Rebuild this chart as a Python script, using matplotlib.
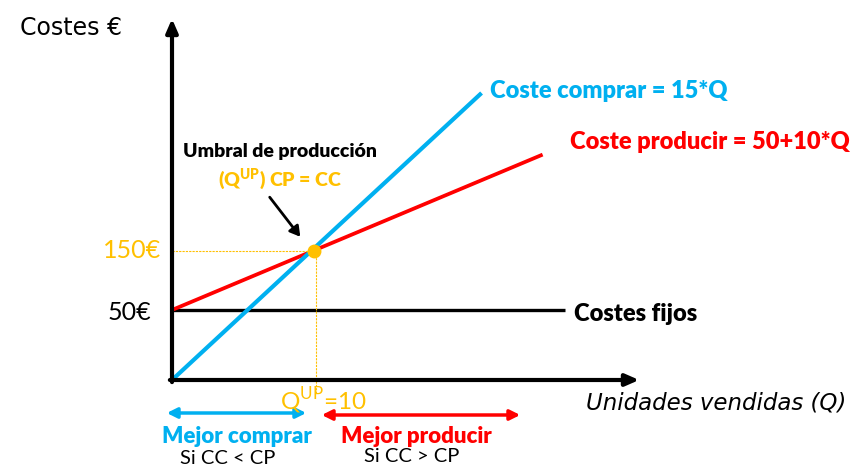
import matplotlib
matplotlib.use('Agg')
import matplotlib.pyplot as plt

# schematic values as drawn: x in units of Q, y in drawn cost units
q_buy = [0, 21.8]
cost_buy = [0, 205]
q_make = [0, 26.1]
cost_make = [50, 161]
q_fixed = [0, 27.7]
cost_fixed = [50, 50]
q_up = 10
cost_up = 92

blue = '#00B0F0'
red = '#FF0000'
gold = '#FFC000'

plt.rcParams['font.family'] = ['Lato', 'DejaVu Sans']
plt.rcParams['mathtext.fontset'] = 'custom'
plt.rcParams['mathtext.rm'] = 'Lato'
plt.rcParams['mathtext.bf'] = 'Lato:heavy'

W, H = 866, 477
fig = plt.figure(figsize=(W / 100, H / 100), dpi=100)
ax = fig.add_axes([0, 0, 1, 1])
ax.axis('off')
# origin of the sketch sits at pixel (172, 381)
ax.set_xlim(-172 / 14.2, (W - 172) / 14.2)
ax.set_ylim(-(H - 381) / 1.4, 381 / 1.4)


def px(x, y):
    return (x / W, 1 - y / H)


# axes with arrows
ax.annotate('', xy=(0, 258), xytext=(0, -1.5),
            arrowprops=dict(arrowstyle='-|>,head_length=0.8,head_width=0.35', lw=3, color='black', shrinkA=0, shrinkB=0))
ax.annotate('', xy=(32.9, 0), xytext=(-0.15, 0),
            arrowprops=dict(arrowstyle='-|>,head_length=0.8,head_width=0.35', lw=3, color='black', shrinkA=0, shrinkB=0))

# cost lines
ax.plot(q_fixed, cost_fixed, color='black', lw=2.4, solid_capstyle='butt')
ax.plot(q_make, cost_make, color=red, lw=2.7, solid_capstyle='butt')
ax.plot(q_buy, cost_buy, color=blue, lw=3, solid_capstyle='butt')

# break-even guides
ax.plot([0, q_up], [cost_up, cost_up], color=gold, lw=0.8, ls=(0, (2, 1)))
ax.plot([q_up + 0.15, q_up + 0.15], [cost_up, -10], color=gold, lw=0.8, ls=(0, (2, 1)))
ax.plot([q_up], [cost_up], 'o', color=gold, ms=9, zorder=5)

# arrow to the threshold
fig.add_artist(matplotlib.patches.FancyArrowPatch(
    px(268, 196), px(302, 240), transform=fig.transFigure,
    arrowstyle='-|>,head_length=6,head_width=3.5', lw=2, color='black'))

# range arrows under the x axis
fig.add_artist(matplotlib.patches.FancyArrowPatch(
    px(164, 414), px(309, 414), transform=fig.transFigure,
    arrowstyle='<|-|>,head_length=6,head_width=3', lw=2.5, color=blue))
fig.add_artist(matplotlib.patches.FancyArrowPatch(
    px(319, 416), px(523, 416), transform=fig.transFigure,
    arrowstyle='<|-|>,head_length=6,head_width=3', lw=2.5, color=red))

# texts
hand = ['DejaVu Sans']
bold = 'heavy'
fig.text(*px(20, 28), 'Costes €', family=hand, fontsize=17, ha='left', va='center')
fig.text(*px(586, 403), 'Unidades vendidas (Q)', family=hand, style='italic',
         fontsize=16.5, ha='left', va='center')

fig.text(*px(490, 91), 'Coste comprar = 15*Q', color=blue, fontsize=17,
         fontweight=bold, ha='left', va='center')
fig.text(*px(570, 142), 'Coste producir = 50+10*Q', color=red, fontsize=17,
         fontweight=bold, ha='left', va='center')
fig.text(*px(574, 314), 'Costes fijos', color='black', fontsize=17,
         fontweight=bold, ha='left', va='center')

fig.text(*px(280, 152), 'Umbral de producción', color='black', fontsize=14,
         fontweight=bold, ha='center', va='center')
fig.text(*px(280, 180), r'(Q$^{\mathbf{UP}}$) CP = CC', color=gold, fontsize=14,
         fontweight=bold, ha='center', va='center')

fig.text(*px(161, 250), '150€', color=gold, fontsize=18, ha='right', va='center')
fig.text(*px(151, 313), '50€', color='black', fontsize=18, ha='right', va='center')
fig.text(*px(323, 401), r'Q$^{\mathrm{UP}}$=10', color=gold, fontsize=17.5,
         ha='center', va='center')

fig.text(*px(237, 437), 'Mejor comprar', color=blue, fontsize=16,
         fontweight=bold, ha='center', va='center')
fig.text(*px(228, 459), 'Si CC < CP', color='black', fontsize=14.5, ha='center', va='center')
fig.text(*px(416, 437), 'Mejor producir', color=red, fontsize=16,
         fontweight=bold, ha='center', va='center')
fig.text(*px(412, 457), 'Si CC > CP', color='black', fontsize=14.5, ha='center', va='center')

fig.savefig('out.png', dpi=100)
